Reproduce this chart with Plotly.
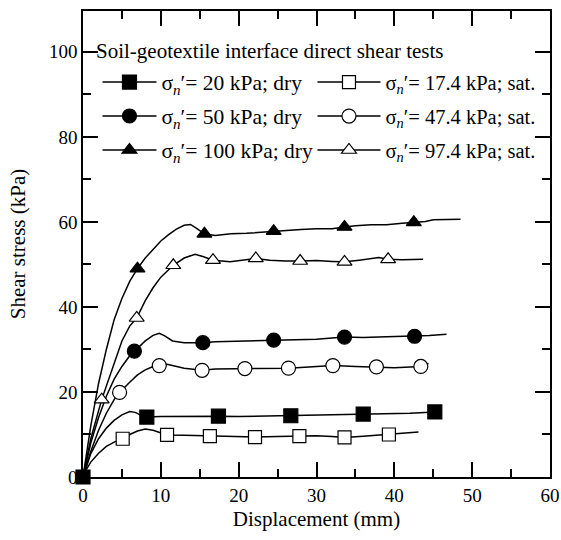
import plotly.graph_objects as go

FONT = "Liberation Serif"

# ---- Shear stress (kPa) versus displacement (mm), recorded curves ----
dry20_x = [0, 0.5, 1, 2, 3, 4, 5, 6, 6.7, 7.5, 8.2, 10, 13, 15, 17.4, 20, 23, 26.7, 30, 33, 36, 39, 42, 45.2]
dry20_y = [0, 3, 5.5, 9, 11.5, 13.3, 14.6, 15.4, 15.2, 14.5, 14.1, 14.2, 14.3, 14.2, 14.3, 14.2, 14.3, 14.4, 14.5, 14.6, 14.8, 14.8, 15.0, 15.3]

sat17_x = [0, 0.5, 1, 2, 3, 4, 5.1, 6, 7, 8, 9, 10.8, 13, 16.3, 19, 22.1, 25, 27.8, 30, 32, 33.6, 36, 39.3, 41, 43.1]
sat17_y = [0, 2, 3.5, 5.6, 7.2, 8.2, 9.0, 10.0, 10.8, 11.3, 11.0, 9.9, 9.8, 9.6, 9.6, 9.4, 9.5, 9.6, 9.7, 9.5, 9.3, 9.6, 10.0, 10.3, 10.6]

dry50_x = [0, 1, 2, 3, 4, 5, 6, 6.6, 8, 9, 9.8, 10.5, 11.5, 13, 15.4, 17, 20, 22, 24.5, 27, 30, 33.6, 36, 39, 42.6, 44.5, 46.7]
dry50_y = [0, 8, 14, 19, 23, 26, 28.5, 29.6, 32, 33.3, 33.8, 33.2, 32.0, 31.6, 31.6, 31.8, 31.9, 32.0, 32.2, 32.3, 32.4, 32.9, 32.8, 33.0, 33.1, 33.3, 33.6]

sat47_x = [0, 1, 2, 3, 4, 4.7, 6, 7, 8, 9, 9.8, 10.8, 13, 15.3, 17, 20.8, 23, 26.4, 29, 32.1, 35, 37.7, 40, 43.4, 44.4]
sat47_y = [0, 6, 11, 15, 18.2, 19.9, 22.3, 24, 25.2, 26, 26.2, 26.5, 25.6, 25.1, 25.4, 25.5, 25.4, 25.6, 25.9, 26.2, 26.0, 25.9, 25.7, 26.0, 26.7]

dry100_x = [0, 1, 2, 3, 4, 5, 6, 7, 8, 9, 10, 11, 12, 13, 13.8, 14.5, 15.6, 17, 19, 21, 23, 24.5, 26, 28, 30, 32, 33.6, 35, 37, 39, 41, 42.5, 44, 45, 46.5, 48.5]
dry100_y = [0, 12, 22, 30, 37, 42, 46, 49, 51.5, 53.5, 55.5, 57, 58.3, 59.2, 59.4, 58.6, 57.2, 56.8, 57.2, 57.3, 57.6, 57.8, 58.0, 58.2, 58.4, 58.4, 58.8, 59.1, 59.3, 59.3, 59.7, 59.9, 60.1, 60.5, 60.6, 60.6]

sat97_x = [0, 1, 2.4, 4, 5, 6, 6.9, 8, 9, 10, 11.6, 13, 14.4, 15.5, 16.7, 18.9, 20.5, 22.2, 24, 26, 27.9, 30, 32, 33.6, 35.5, 37, 38, 39.2, 41, 43.7]
sat97_y = [0, 9, 18.2, 27, 32, 35.5, 37.4, 41.5, 44.5, 47, 49.8, 51.5, 52.4, 51.8, 51.0, 50.6, 51.0, 51.4, 51.0, 50.8, 50.8, 50.9, 50.7, 50.6, 51.0, 51.4, 51.6, 51.2, 51.1, 51.2]

# ---- Symbol positions along each curve ----
dry20_mx = [0, 8.2, 17.4, 26.7, 36.0, 45.2]
dry20_my = [0, 14.1, 14.3, 14.4, 14.8, 15.3]
sat17_mx = [5.1, 10.8, 16.3, 22.1, 27.8, 33.6, 39.3]
sat17_my = [9.0, 9.9, 9.6, 9.4, 9.6, 9.3, 10.0]
dry50_mx = [6.6, 15.4, 24.5, 33.6, 42.6]
dry50_my = [29.6, 31.6, 32.2, 32.9, 33.1]
sat47_mx = [4.7, 9.8, 15.3, 20.8, 26.4, 32.1, 37.7, 43.4]
sat47_my = [19.9, 26.2, 25.1, 25.5, 25.6, 26.2, 25.9, 26.0]
dry100_mx = [7.0, 15.6, 24.5, 33.6, 42.5]
dry100_my = [49.0, 57.2, 57.8, 58.8, 59.9]
sat97_mx = [2.4, 6.9, 11.6, 16.7, 22.2, 27.9, 33.6, 39.2]
sat97_my = [18.2, 37.4, 49.8, 51.0, 51.4, 50.8, 50.6, 51.2]

# (legend label, curve, symbols, symbol shape, fill, size, legend column)
series = [
    ("σ<sub><i>n</i></sub>′= 20 kPa; dry", dry20_x, dry20_y, dry20_mx, dry20_my, "square", "black", 14, "legend"),
    ("σ<sub><i>n</i></sub>′= 50 kPa; dry", dry50_x, dry50_y, dry50_mx, dry50_my, "circle", "black", 14, "legend"),
    ("σ<sub><i>n</i></sub>′= 100 kPa; dry", dry100_x, dry100_y, dry100_mx, dry100_my, "triangle-up", "black", 13, "legend"),
    ("σ<sub><i>n</i></sub>′= 17.4 kPa; sat.", sat17_x, sat17_y, sat17_mx, sat17_my, "square", "white", 13, "legend2"),
    ("σ<sub><i>n</i></sub>′= 47.4 kPa; sat.", sat47_x, sat47_y, sat47_mx, sat47_my, "circle", "white", 14, "legend2"),
    ("σ<sub><i>n</i></sub>′= 97.4 kPa; sat.", sat97_x, sat97_y, sat97_mx, sat97_my, "triangle-up", "white", 13, "legend2"),
]

fig = go.Figure()
for i, (name, cx, cy, mx, my, sym, fill, size, leg) in enumerate(series):
    marker = dict(symbol=sym, size=size, color=fill, line=dict(color="black", width=1.2))
    fig.add_trace(go.Scatter(x=cx, y=cy, mode="lines", line=dict(color="black", width=1.5),
                             showlegend=False, hoverinfo="skip"))
    fig.add_trace(go.Scatter(x=mx, y=my, mode="markers", marker=marker, showlegend=False,
                             cliponaxis=False))
    # legend sample: line with the series symbol
    fig.add_trace(go.Scatter(x=[None], y=[None], mode="lines+markers", name=name,
                             legend=leg, legendgroup=f"g{i}",
                             line=dict(color="black", width=1.5), marker=marker))

axis_common = dict(
    showline=True, linecolor="black", linewidth=1.5, mirror="ticks",
    ticks="inside", ticklen=15, tickwidth=1.5, tickcolor="black",
    showgrid=False, zeroline=False, automargin=False,
    tickfont=dict(family=FONT, size=19, color="black"),
)

fig.update_xaxes(range=[0, 60], dtick=10, tick0=0,
                 minor=dict(dtick=5, ticks="inside", ticklen=8, tickwidth=1.5, tickcolor="black"),
                 title=dict(text="Displacement (mm)", font=dict(family=FONT, size=21, color="black"), standoff=7),
                 **axis_common)
fig.update_yaxes(range=[0, 109.6], dtick=20, tick0=0,
                 minor=dict(dtick=10, ticks="inside", ticklen=8, tickwidth=1.5, tickcolor="black"),
                 title=dict(text="Shear stress (kPa)", font=dict(family=FONT, size=21, color="black"), standoff=18),
                 **axis_common)

legend_style = dict(
    orientation="v", xanchor="left", yanchor="top",
    traceorder="grouped",
    bgcolor="rgba(0,0,0,0)", borderwidth=0,
    itemsizing="trace",
)

fig.update_layout(
    width=561, height=540,
    margin=dict(l=83, r=11, t=11, b=63, autoexpand=False),
    paper_bgcolor="white", plot_bgcolor="white",
    font=dict(family=FONT, color="black"),
    legend=dict(x=0.031, y=0.8915, itemwidth=54, tracegroupgap=3,
                font=dict(family=FONT, size=21.5, color="black"), **legend_style),
    legend2=dict(x=0.4914, y=0.8900, itemwidth=63, tracegroupgap=4.3,
                 font=dict(family=FONT, size=20.5, color="black"), **legend_style),
    annotations=[dict(
        text="Soil-geotextile interface direct shear tests",
        xref="paper", yref="paper", x=0.024, y=0.9141, xanchor="left", yanchor="middle",
        showarrow=False, font=dict(family=FONT, size=21, color="black"),
    )],
)

fig.write_html("out.html")
